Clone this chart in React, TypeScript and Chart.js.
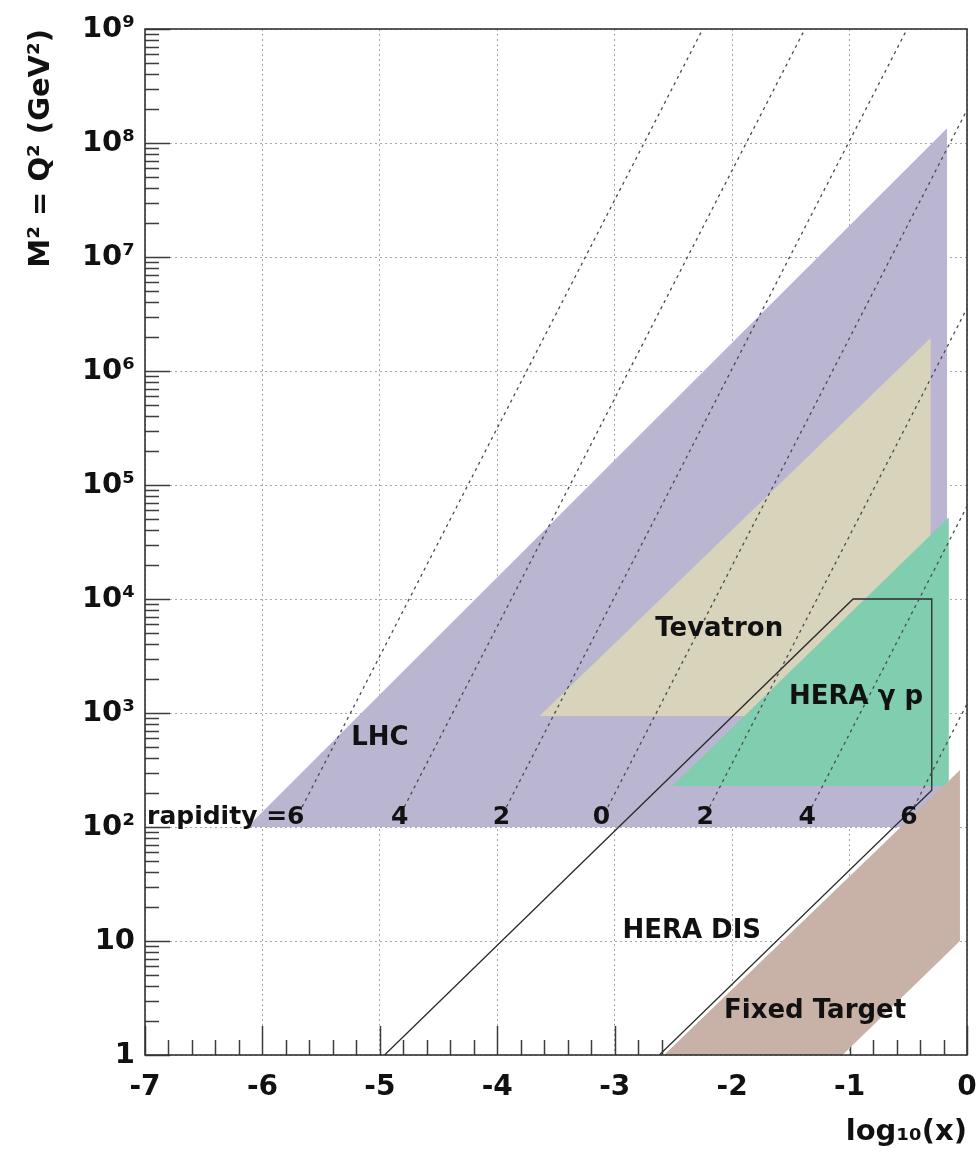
import React, { useEffect, useRef } from 'react';
import { Chart, registerables } from 'chart.js';

Chart.register(...registerables);

const FONT = "'DejaVu Sans', 'Liberation Sans', sans-serif";

// Axis ticks
const xTickValues = [-7, -6, -5, -4, -3, -2, -1, 0];
const xTickLabels = ['-7', '-6', '-5', '-4', '-3', '-2', '-1', '0'];
const yTickValues = [1, 1e1, 1e2, 1e3, 1e4, 1e5, 1e6, 1e7, 1e8, 1e9];
const yTickLabels = ['1', '10', '10²', '10³', '10⁴', '10⁵', '10⁶', '10⁷', '10⁸', '10⁹'];

// Kinematic regions, corners given as (log10 x, M²)
const lhcX = [-6.13, -0.17, -0.17];
const lhcM2 = [100, 1.35e8, 100];
const tevatronX = [-3.64, -0.31, -0.31];
const tevatronM2 = [940, 1.95e6, 940];
const heraPhotoX = [-2.51, -0.155, -0.155];
const heraPhotoM2 = [229, 5.2e4, 229];
const fixedTargetX = [-2.58, -0.06, -0.06, -1.06];
const fixedTargetM2 = [1, 316, 10, 1];

// HERA DIS contour (open polyline)
const heraDisX = [-4.96, -0.97, -0.30, -0.30, -2.62];
const heraDisM2 = [1, 1e4, 1e4, 210, 1];

// LHC lines of constant rapidity: lower and upper ends
const rapidityValues = ['6', '4', '2', '0', '2', '4', '6'];
const rapidityLowX = [-5.662, -4.792, -3.922, -3.058, -2.192, -1.322, -0.452];
const rapidityLowM2 = [150, 150, 150, 150, 150, 150, 150];
const rapidityHighX = [-2.25, -1.38, -0.51, 0, 0, 0, 0];
const rapidityHighM2 = [1e9, 1e9, 1e9, 1.95e8, 3.55e6, 6.5e4, 1.2e3];
const rapidityLabelX = [-5.716, -4.832, -3.964, -3.114, -2.23, -1.36, -0.495];
const rapidityLabelM2 = 122;

// Region names and where they are written
const regionNames = ['LHC', 'Tevatron', 'HERA γ p', 'HERA DIS', 'Fixed Target'];
const regionLabelX = [-5.0, -2.11, -0.945, -2.344, -1.294];
const regionLabelM2 = [600, 5400, 1380, 12.2, 2.43];

const points = (xs: number[], ys: number[]) => xs.map((v, i) => ({ x: v, y: ys[i] }));

const region = (xs: number[], ys: number[], color: string, order: number) => ({
  data: points(xs, ys),
  showLine: true,
  fill: 'shape',
  backgroundColor: color,
  borderColor: 'rgba(0,0,0,0)',
  borderWidth: 0,
  pointRadius: 0,
  order,
});

const decorations = {
  id: 'decorations',
  beforeDatasetsDraw(chart: any) {
    const { ctx, chartArea: a, scales } = chart;
    const x = scales.x;
    const y = scales.y;
    ctx.save();
    ctx.strokeStyle = '#3c3c3c';
    ctx.lineWidth = 1.5;
    ctx.beginPath();
    for (let i = 0; i <= 35; i++) {
      const px = Math.round(x.getPixelForValue(-7 + i * 0.2)) + 0.5;
      const len = i % 5 === 0 ? 29 : 15;
      ctx.moveTo(px, a.bottom);
      ctx.lineTo(px, a.bottom - len);
    }
    for (let d = 0; d <= 9; d++) {
      for (let k = 1; k <= 9; k++) {
        if (d === 9 && k > 1) break;
        const py = Math.round(y.getPixelForValue(k * Math.pow(10, d))) + 0.5;
        const len = k === 1 ? 25 : 14;
        ctx.moveTo(a.left, py);
        ctx.lineTo(a.left + len, py);
      }
    }
    ctx.stroke();
    ctx.restore();
  },
  afterDatasetsDraw(chart: any) {
    const { ctx, chartArea: a, scales } = chart;
    const x = scales.x;
    const y = scales.y;
    ctx.save();
    ctx.strokeStyle = '#333';
    ctx.lineWidth = 1.6;
    ctx.strokeRect(a.left, a.top, a.right - a.left, a.bottom - a.top);

    ctx.fillStyle = '#111';
    ctx.textBaseline = 'middle';
    ctx.textAlign = 'center';
    ctx.font = `bold 26px ${FONT}`;
    regionNames.forEach((name, i) => {
      ctx.fillText(name, x.getPixelForValue(regionLabelX[i]), y.getPixelForValue(regionLabelM2[i]));
    });

    ctx.font = `bold 25px ${FONT}`;
    const ly = y.getPixelForValue(rapidityLabelM2);
    rapidityValues.forEach((v, i) => {
      const px = x.getPixelForValue(rapidityLabelX[i]);
      ctx.textAlign = 'center';
      ctx.fillText(v, px, ly);
      if (i === 0) {
        ctx.textAlign = 'right';
        ctx.fillText('rapidity =', px - ctx.measureText(v).width / 2, ly);
      }
    });
    ctx.restore();
  },
};

export default function App() {
  const ref = useRef<HTMLCanvasElement>(null);

  useEffect(() => {
    const canvas = ref.current;
    if (!canvas) return;

    const rapidityLines = rapidityValues.map((_, i) => ({
      data: [
        { x: rapidityLowX[i], y: rapidityLowM2[i] },
        { x: rapidityHighX[i], y: rapidityHighM2[i] },
      ],
      showLine: true,
      fill: false,
      borderColor: '#4a4a4a',
      borderWidth: 1.3,
      borderDash: [3, 4],
      pointRadius: 0,
      order: 1,
    }));

    const chart = new Chart(canvas, {
      type: 'scatter',
      data: {
        datasets: [
          ...rapidityLines,
          {
            data: points(heraDisX, heraDisM2),
            showLine: true,
            fill: false,
            borderColor: '#2a2a2a',
            borderWidth: 1.3,
            pointRadius: 0,
            order: 2,
          },
          region(fixedTargetX, fixedTargetM2, '#c8b2a7', 3),
          region(heraPhotoX, heraPhotoM2, '#80cdb0', 4),
          region(tevatronX, tevatronM2, '#d8d3bb', 5),
          region(lhcX, lhcM2, '#bab5d1', 6),
        ] as any,
      },
      options: {
        responsive: false,
        animation: false,
        devicePixelRatio: 1,
        events: [],
        layout: { padding: { top: 29, right: 10, left: 0, bottom: 0 } },
        plugins: {
          legend: { display: false },
          tooltip: { enabled: false },
        },
        scales: {
          x: {
            type: 'linear',
            min: -7,
            max: 0,
            afterBuildTicks: (s: any) => {
              s.ticks = xTickValues.map((v) => ({ value: v }));
            },
            afterFit: (s: any) => {
              s.height = 99;
              s.paddingLeft = 0;
              s.paddingRight = 0;
            },
            ticks: {
              autoSkip: false,
              maxRotation: 0,
              padding: 16,
              color: '#111',
              font: { family: FONT, weight: 'bold', size: 28 },
              callback: (v: any) => xTickLabels[xTickValues.indexOf(Number(v))] ?? '',
            },
            grid: {
              drawTicks: false,
              color: 'rgba(130,130,130,0.7)',
              lineWidth: 1,
            },
            border: { display: false, dash: [2, 3] },
            title: {
              display: true,
              text: 'log₁₀(x)',
              align: 'end',
              color: '#111',
              font: { family: FONT, weight: 'bold', size: 29 },
              padding: { top: 0, bottom: 4 },
            },
          },
          y: {
            type: 'logarithmic',
            min: 1,
            max: 1e9,
            afterBuildTicks: (s: any) => {
              s.ticks = yTickValues.map((v) => ({ value: v }));
            },
            afterFit: (s: any) => {
              s.width = 145;
              s.paddingTop = 0;
              s.paddingBottom = 0;
            },
            ticks: {
              autoSkip: false,
              padding: 10,
              color: '#111',
              font: { family: FONT, weight: 'bold', size: 29 },
              callback: (v: any) => yTickLabels[yTickValues.indexOf(Number(v))] ?? '',
            },
            grid: {
              drawTicks: false,
              color: 'rgba(130,130,130,0.7)',
              lineWidth: 1,
            },
            border: { display: false, dash: [2, 3] },
            title: {
              display: true,
              text: 'M² = Q² (GeV²)',
              align: 'end',
              color: '#111',
              font: { family: FONT, weight: 'bold', size: 29 },
              padding: { top: 24, bottom: 0 },
            },
          },
        },
      } as any,
      plugins: [decorations],
    });

    return () => chart.destroy();
  }, []);

  return (
    <div style={{ position: 'fixed', left: 0, top: 0, width: 977, height: 1154, background: '#fff' }}>
      <canvas ref={ref} width={977} height={1154} style={{ display: 'block', width: 977, height: 1154 }} />
    </div>
  );
}
